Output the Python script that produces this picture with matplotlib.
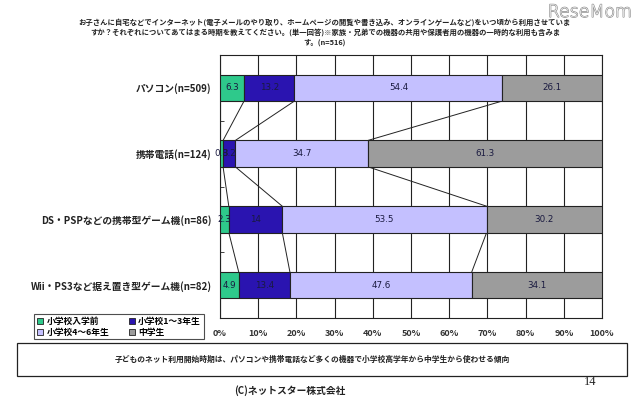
import matplotlib
matplotlib.use("Agg")
import matplotlib.pyplot as plt
import matplotlib.patheffects as pe
from matplotlib.patches import Patch, Rectangle
import numpy as np

plt.rcParams['font.family'] = ['Noto Sans CJK JP', 'DejaVu Sans']

categories = ["パソコン(n=509)", "携帯電話(n=124)", "DS・PSPなどの携帯型ゲーム機(n=86)", "Wii・PS3など据え置き型ゲーム機(n=82)"]
series_names = ["小学校入学前", "小学校1～3年生", "小学校4～6年生", "中学生"]
values = {
    "小学校入学前": [6.3, 0.8, 2.3, 4.9],
    "小学校1～3年生": [13.2, 3.2, 14, 13.4],
    "小学校4～6年生": [54.4, 34.7, 53.5, 47.6],
    "中学生": [26.1, 61.3, 30.2, 34.1],
}
value_labels = {
    "小学校入学前": ["6.3", "0.8", "2.3", "4.9"],
    "小学校1～3年生": ["13.2", "3.2", "14", "13.4"],
    "小学校4～6年生": ["54.4", "34.7", "53.5", "47.6"],
    "中学生": ["26.1", "61.3", "30.2", "34.1"],
}
xtick_vals = [0, 10, 20, 30, 40, 50, 60, 70, 80, 90, 100]
xtick_labels = ["0%", "10%", "20%", "30%", "40%", "50%", "60%", "70%", "80%", "90%", "100%"]
colors = ["#2ec98b", "#2a14b0", "#c4c0ff", "#9c9c9c"]

title = ("お子さんに自宅などでインターネット(電子メールのやり取り、ホームページの閲覧や書き込み、オンラインゲームなど)をいつ頃から利用させていま\n"
         "すか？それぞれについてあてはまる時期を教えてください。(単一回答)※家族・兄弟での機器の共用や保護者用の機器の一時的な利用も含みま\n"
         "す。(n=516)")
footer = "子どものネット利用開始時期は、パソコンや携帯電話など多くの機器で小学校高学年から中学生から使わせる傾向"
credit = "(C)ネットスター株式会社"
page = "14"

fig = plt.figure(figsize=(6.4, 4.04), dpi=100)
fig.patch.set_facecolor("white")
ax = fig.add_axes([220/640, 1-318/404, 382/640, 263/404])

y = np.arange(len(categories))
h = 0.4
left = np.zeros(len(categories))
bounds = []
for name, c in zip(series_names, colors):
    v = np.array(values[name], dtype=float)
    ax.barh(y, v, left=left, height=h, color=c, edgecolor="#222222", linewidth=0.8, zorder=3)
    for i in range(len(categories)):
        ax.text(left[i] + v[i]/2, y[i], value_labels[name][i], ha="center", va="center",
                fontsize=6.3, color="#1a1a40", zorder=4, family=['DejaVu Sans'])
    left = left + v
    bounds.append(left.copy())

# series lines
for b in bounds[:-1]:
    for i in range(len(categories) - 1):
        ax.plot([b[i], b[i+1]], [y[i] + h/2, y[i+1] - h/2], color="#222222", lw=0.7, zorder=2)

ax.set_xlim(0, 100)
ax.set_ylim(len(categories) - 0.5, -0.5)
ax.set_xticks(xtick_vals)
ax.set_xticklabels(xtick_labels, fontsize=6.5, fontweight="bold", color="#333333")
ax.set_yticks(y)
ax.set_yticklabels(categories, fontsize=7, fontweight="bold", color="#222222")
ax.set_yticks(np.arange(0.5, len(categories) - 0.5, 1), minor=True)
ax.tick_params(axis="y", which="major", length=0, pad=6)
ax.tick_params(axis="y", which="minor", length=3, direction="in", color="#222222")
ax.tick_params(axis="x", length=0, pad=8)
ax.grid(axis="x", color="#222222", lw=0.8, zorder=1)
for s in ax.spines.values():
    s.set_color("#222222")
    s.set_linewidth(0.8)

fig.text(325/640, 1-32/404, title, ha="center", va="center", fontsize=5.3, linespacing=1.4,
         color="#222222", fontweight="bold")

order = [0, 2, 1, 3]
handles = [Patch(facecolor=colors[k], edgecolor="#222222", linewidth=0.6) for k in order]
labels = [series_names[k] for k in order]
leg = fig.legend(handles, labels, loc="upper left", bbox_to_anchor=(30/640, 1-310/404),
                 ncol=2, fontsize=6.3, frameon=True, fancybox=False, edgecolor="#222222",
                 handlelength=0.7, handleheight=0.7, handletextpad=0.4, columnspacing=2.2,
                 borderpad=0.3, labelspacing=0.2)
leg.get_frame().set_linewidth(0.8)
for t in leg.get_texts():
    t.set_fontweight("bold")

fig.patches.append(Rectangle((17/640, 1-376/404), 610/640, 33/404, transform=fig.transFigure,
                             facecolor="white", edgecolor="#222222", linewidth=0.9))
fig.text(312/640, 1-359/404, footer, ha="center", va="center", fontsize=5.6, color="#222222",
         fontweight="bold")
fig.text(290/640, 1-391/404, credit, ha="center", va="center", fontsize=7, color="#222222",
         fontweight="bold")
fig.text(590/640, 1-382/404, page, ha="center", va="center", fontsize=9, color="#222222",
         family=['Liberation Serif'])
fig.text(632/640, 1-12/404, "ReseMom", ha="right", va="center", fontsize=12.5, color="#f4f4f4",
         family=['DejaVu Sans'], fontweight="light",
         path_effects=[pe.withStroke(linewidth=0.8, foreground="#888888")])

fig.savefig("out.png", dpi=100)
